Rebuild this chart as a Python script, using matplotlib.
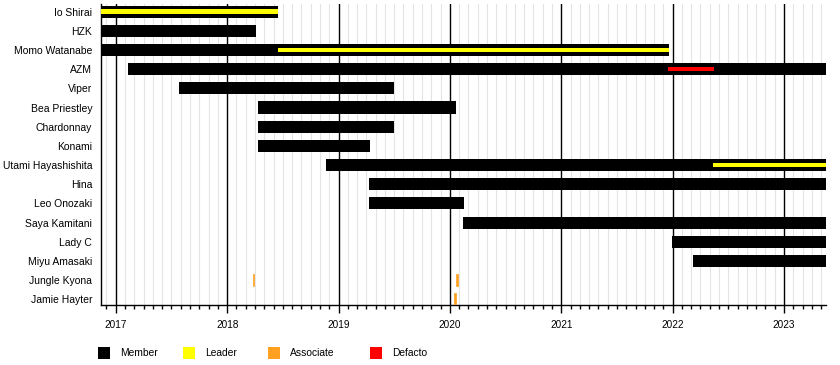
"""Stable timeline: members, leaders, associates."""
import matplotlib
matplotlib.use("Agg")
import matplotlib.pyplot as plt
from matplotlib.patches import Rectangle
import numpy as np

plt.rcParams["font.family"] = ["Liberation Sans", "DejaVu Sans"]

NAMES = [
    "Io Shirai", "HZK", "Momo Watanabe", "AZM", "Viper", "Bea Priestley",
    "Chardonnay", "Konami", "Utami Hayashishita", "Hina", "Leo Onozaki",
    "Saya Kamitani", "Lady C", "Miyu Amasaki", "Jungle Kyona", "Jamie Hayter",
]

X_MIN, X_MAX = 2016.863, 2023.377
END = X_MAX

# (row, start, end) in decimal years
MEMBER = [
    (0, 2016.863, 2018.457),
    (1, 2016.863, 2018.26),
    (2, 2016.877, 2021.97),
    (3, 2017.11, END),
    (4, 2017.568, 2019.498),
    (5, 2018.278, 2020.055),
    (6, 2018.278, 2019.498),
    (7, 2018.278, 2019.283),
    (8, 2018.887, END),
    (9, 2019.274, END),
    (10, 2019.274, 2020.127),
    (11, 2020.118, END),
    (12, 2021.995, END),
    (13, 2022.183, END),
]
LEADER = [
    (0, 2016.863, 2018.457),
    (2, 2018.457, 2021.97),
    (8, 2022.363, END),
]
ASSOCIATE = [
    (14, 2018.229, 2018.241),
    (14, 2020.058, 2020.070),
    (15, 2020.040, 2020.052),
]
DEFACTO = [
    (3, 2021.96, 2022.372),
]

COLORS = {"Member": "#000000", "Leader": "#FFFF00",
          "Associate": "#FFA020", "Defacto": "#FF0000"}
YEARS = list(range(2017, 2024))


def draw(ax, spans, color, height, edge=0):
    for row, a, b in spans:
        ax.barh(row, b - a, left=a, height=height, color=color,
                edgecolor=color, linewidth=edge, zorder=3)


fig = plt.figure(figsize=(8.4, 3.65), dpi=100)
ax = fig.add_axes([100.5 / 840, 1 - 305 / 365, (826 - 100.5) / 840, 301 / 365])

# monthly grid + yearly black lines
months = np.arange(2016 + 11 / 12, X_MAX, 1 / 12)
minor = [m for m in months if m > X_MIN and abs(m - round(m)) > 1e-6]
for m in minor:
    ax.axvline(m, color="#e4e4e4", lw=0.8, zorder=1)
for y in YEARS:
    ax.axvline(y, color="black", lw=1.0, zorder=2)

draw(ax, MEMBER, COLORS["Member"], 0.63)
draw(ax, LEADER, COLORS["Leader"], 0.24)
draw(ax, DEFACTO, COLORS["Defacto"], 0.24)
draw(ax, ASSOCIATE, COLORS["Associate"], 0.6, edge=0.5)

ax.set_xlim(X_MIN, X_MAX)
ax.set_ylim(len(NAMES) - 1 + 0.3, -0.4)
ax.set_yticks(range(len(NAMES)))
ax.set_yticklabels(NAMES, fontsize=7.5)
ax.tick_params(axis="y", length=0, pad=6)
ax.set_xticks(YEARS)
ax.set_xticklabels([str(y) for y in YEARS], fontsize=7.2)
ax.set_xticks(minor, minor=True)
ax.tick_params(axis="x", which="major", length=6, width=1, pad=5)
ax.tick_params(axis="x", which="minor", length=3, width=1)
for s in ["top", "right"]:
    ax.spines[s].set_visible(False)
ax.spines["left"].set_linewidth(1)
ax.spines["bottom"].set_linewidth(1)

# legend along the bottom
legend_x = [98, 183, 268, 370]
for (label, color), lx in zip(COLORS.items(), legend_x):
    fig.add_artist(Rectangle((lx / 840, 1 - 359 / 365), 12 / 840, 12 / 365,
                             transform=fig.transFigure, color=color, lw=0))
    fig.text((lx + 22) / 840, 1 - 353 / 365, label, fontsize=7.4, va="center")

fig.savefig("out.png", dpi=100)
